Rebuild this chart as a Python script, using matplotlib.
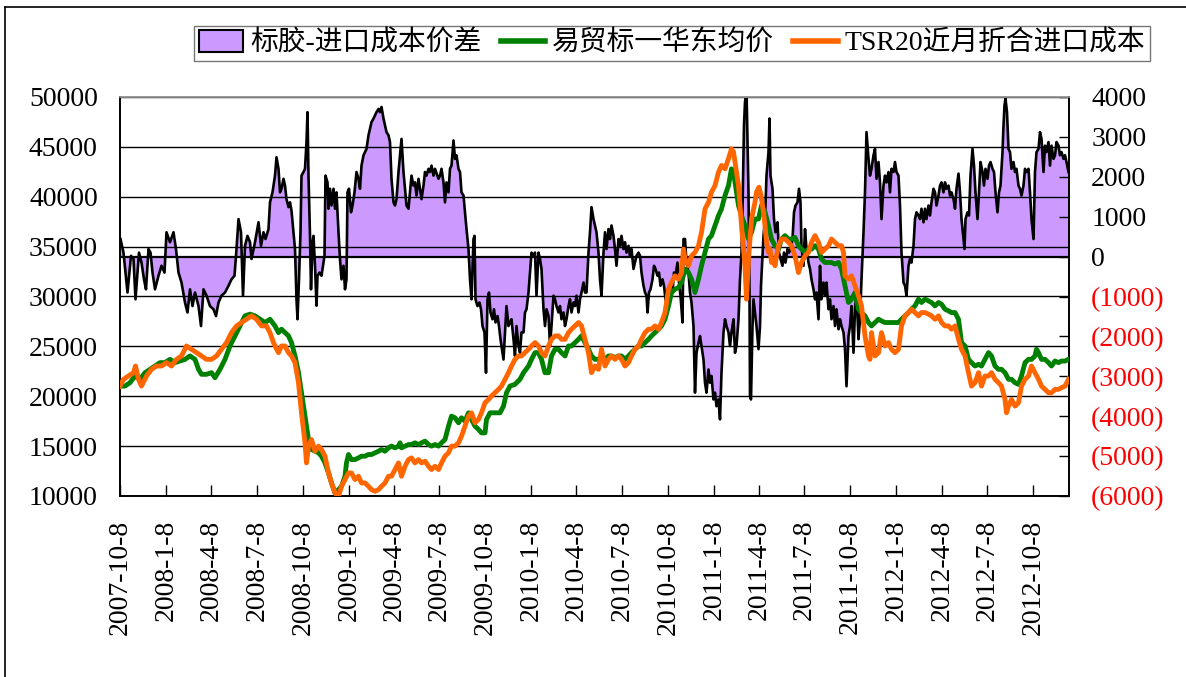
import numpy as np
import pandas as pd
import matplotlib
matplotlib.use("Agg")
import matplotlib.pyplot as plt
from matplotlib.patches import Patch
from matplotlib.lines import Line2D

plt.rcParams['font.family'] = ['Liberation Serif', 'Noto Sans CJK SC']
plt.rcParams['axes.unicode_minus'] = False

# ---------- data (day offset from 2007-10-08, value) ----------
start = pd.Timestamp("2007-10-08")
end_day = 1898

# 标胶-进口成本价差 (right axis)
spread_pts = [
    (1, 440), (7, 100), (15, -900), (22, 20), (27, -60), (31, -1070), (38, 100), (43, -150),
    (48, -570), (52, -820), (57, 190), (61, 100), (65, -400), (70, -820), (77, -480), (83, -230),
    (89, -400), (93, 610), (100, 360), (107, 610), (112, 190), (117, -400), (123, -650), (130, -1150),
    (135, -1400), (140, -820), (145, -1240), (150, -900), (157, -1240), (162, -1740), (167, -820),
    (173, -980), (180, -1240), (187, -1320), (192, -1490), (197, -1150), (203, -980), (210, -900),
    (217, -730), (223, -570), (229, -480), (233, 190), (237, 940), (242, 610), (246, -980), (250, 270),
    (255, 520), (260, 360), (263, -60), (270, 360), (277, 860), (282, 270), (287, 610), (291, 440),
    (297, 690), (300, 1360), (305, 1610), (310, 2030), (313, 2490), (317, 2200), (320, 1610),
    (323, 1700), (327, 1950), (330, 1780), (333, 1440), (337, 1240), (340, 1360), (343, 1150),
    (347, 600), (350, 190), (353, -1070), (355, -1570), (358, -570), (361, 610), (363, 2030),
    (367, 2120), (370, 2200), (373, 2870), (375, 3620), (377, 2030), (380, 520), (382, -820),
    (385, 360), (387, 520), (390, -230), (393, -1230), (395, -480), (399, -400), (403, -480),
    (409, 20), (411, 2030), (415, 1860), (417, 1200), (420, 1700), (423, 1280), (427, 1700),
    (430, 1200), (433, 1610), (437, 610), (440, -60), (443, -570), (447, -230), (450, -820),
    (453, -570), (455, 1610), (458, 1700), (462, 1110), (465, 1280), (469, 1610), (473, 2120),
    (477, 1950), (480, 1700), (483, 2280), (487, 2540), (490, 2620), (493, 2700), (497, 3040),
    (500, 3200), (503, 3370), (507, 3460), (510, 3540), (513, 3620), (517, 3700), (520, 3620),
    (523, 3750), (527, 3460), (530, 3290), (533, 3120), (537, 3040), (540, 2870), (543, 1950),
    (547, 1360), (550, 1280), (553, 1440), (557, 2120), (560, 2540), (563, 2950), (567, 2120),
    (570, 1700), (573, 1280), (577, 1200), (580, 1610), (583, 2030), (587, 1780), (590, 1860),
    (593, 1530), (597, 1950), (600, 1700), (603, 1440), (607, 1780), (610, 2120), (613, 2030),
    (617, 2200), (620, 2120), (623, 2280), (627, 2030), (630, 2200), (637, 1950), (640, 2030),
    (643, 2200), (647, 1860), (650, 1360), (653, 1860), (657, 1610), (660, 2200), (663, 2280),
    (667, 2910), (670, 2450), (673, 2540), (677, 2200), (680, 2120), (683, 1610), (687, 1530),
    (690, 1110), (693, 690), (697, 190), (700, -570), (703, -1070), (707, 440), (709, 520),
    (711, -1070), (715, -1240), (719, -1150), (722, -1320), (725, -1740), (729, -1900), (732, -2910),
    (735, -1070), (738, -900), (741, -1400), (745, -1570), (748, -1320), (751, -1650), (755, -1490),
    (758, -1740), (761, -2070), (767, -2580), (770, -1900), (773, -1240), (777, -1740), (780, -1650),
    (783, -1570), (787, -2070), (790, -2490), (793, -1740), (797, -2240), (800, -2410), (803, -1900),
    (807, -1900), (810, -1400), (813, -1320), (817, -900), (820, -400), (823, 100), (827, 20),
    (830, 100), (833, -980), (837, 100), (840, -60), (843, -310), (847, -1320), (850, -1740),
    (853, -1320), (857, -1490), (860, -2240), (863, -1740), (867, -980), (870, -1070), (873, -1240),
    (877, -1400), (880, -1240), (883, -1570), (887, -1400), (890, -1740), (893, -1570), (897, -1240),
    (900, -1070), (903, -1400), (907, -1150), (910, -1240), (913, -980), (917, -1400), (920, -1070),
    (923, -900), (927, -650), (930, -900), (933, -900), (937, 100), (940, 610), (943, 1240),
    (947, 940), (950, 780), (953, 610), (957, 100), (960, -570), (963, -980), (967, 100), (970, 610),
    (973, 190), (977, 690), (980, 440), (983, 780), (987, 520), (990, 190), (993, -230), (997, 440),
    (1000, 270), (1003, 520), (1007, 190), (1010, 360), (1013, 100), (1017, 270), (1020, 20),
    (1023, 190), (1027, -310), (1030, -150), (1033, 20), (1037, 100), (1040, 20), (1043, -400),
    (1047, -730), (1050, -900), (1053, -980), (1055, -1400), (1058, -900), (1061, -820), (1065, -570),
    (1068, -230), (1071, -310), (1075, -480), (1078, -400), (1081, -730), (1085, -570), (1088, -730),
    (1091, -1070), (1095, -1240), (1098, -980), (1101, -900), (1105, -900), (1108, -400), (1111, -480),
    (1115, -150), (1118, -650), (1121, -980), (1125, -1650), (1127, 440), (1130, 440), (1133, -150),
    (1137, -400), (1140, -900), (1143, -1150), (1147, -1740), (1150, -3410), (1153, -2410),
    (1157, -2160), (1160, -1990), (1163, -2240), (1167, -2580), (1170, -3160), (1173, -3410),
    (1177, -2830), (1180, -3160), (1183, -2990), (1187, -3580), (1190, -3410), (1193, -3750),
    (1197, -3580), (1200, -4080), (1203, -2910), (1207, -1900), (1210, -1570), (1213, -1740),
    (1217, -1900), (1220, -2240), (1223, -1900), (1227, -1570), (1230, -2410), (1233, -2240),
    (1237, -1570), (1240, -570), (1243, 100), (1245, 1200), (1248, 3290), (1250, 3870), (1253, 4200),
    (1255, 2870), (1257, 1610), (1259, -900), (1260, -3500), (1262, -3580), (1265, -1740),
    (1267, -1070), (1270, -1400), (1273, -1740), (1277, -2320), (1280, -1740), (1282, -730),
    (1287, 520), (1290, 940), (1293, 2030), (1297, 2620), (1299, 3460), (1301, 2030), (1305, 1700),
    (1308, 940), (1311, 610), (1315, 860), (1318, 100), (1321, -60), (1325, -230), (1328, 100),
    (1331, -150), (1335, 190), (1338, 100), (1341, 190), (1345, 440), (1348, 1110), (1351, 1280),
    (1355, 1360), (1358, 1700), (1361, 1360), (1363, 270), (1367, -230), (1370, 690), (1373, 190),
    (1377, -150), (1380, -310), (1383, -570), (1387, -820), (1390, -1070), (1393, -900),
    (1397, -1570), (1400, -230), (1403, -1070), (1407, -650), (1410, -980), (1413, -650),
    (1417, -1320), (1420, -1070), (1423, -1570), (1427, -1240), (1430, -1740), (1433, -1320),
    (1437, -1820), (1440, -1570), (1443, -1740), (1447, -1900), (1450, -2320), (1453, -3250),
    (1457, -1990), (1460, -1740), (1463, -1240), (1467, -2410), (1470, -1320), (1473, -900),
    (1477, -2070), (1480, -1570), (1483, -570), (1487, 610), (1490, 1610), (1493, 3120),
    (1497, 2450), (1500, 2030), (1503, 2200), (1507, 2540), (1510, 2700), (1513, 1950), (1517, 2370),
    (1520, 1860), (1523, 940), (1527, 1780), (1530, 2030), (1533, 1860), (1537, 2120), (1540, 1610),
    (1543, 2200), (1547, 2120), (1550, 2370), (1553, 2120), (1557, 2030), (1560, 1280), (1563, 100),
    (1567, -650), (1570, -730), (1573, -980), (1577, -230), (1580, -60), (1583, -150), (1587, 270),
    (1590, 940), (1593, 1110), (1597, 1030), (1600, 940), (1603, 1200), (1607, 860), (1610, 1200),
    (1613, 940), (1617, 1280), (1620, 1030), (1623, 1360), (1627, 1700), (1630, 1610), (1633, 1280),
    (1637, 1530), (1640, 1780), (1643, 1860), (1647, 1610), (1650, 1860), (1653, 1700), (1657, 1780),
    (1660, 1530), (1663, 1610), (1667, 1440), (1670, 1200), (1673, 1700), (1677, 2080), (1680, 1610),
    (1683, 940), (1687, 440), (1689, 190), (1691, 940), (1695, 1110), (1698, 1030), (1701, 2030),
    (1705, 2700), (1708, 2280), (1711, 1610), (1715, 940), (1718, 1610), (1721, 2370), (1725, 2120),
    (1728, 1780), (1731, 2200), (1735, 1950), (1738, 2280), (1741, 2370), (1745, 2200), (1748, 2120),
    (1751, 1610), (1755, 1110), (1758, 1610), (1761, 1780), (1765, 2620), (1767, 3290), (1769, 3790),
    (1771, 3960), (1774, 3620), (1777, 2700), (1780, 2620), (1783, 2200), (1787, 2370), (1790, 2120),
    (1793, 2200), (1797, 1780), (1800, 1700), (1803, 1530), (1807, 1780), (1810, 2200), (1813, 2120),
    (1817, 2200), (1820, 1610), (1823, 940), (1827, 440), (1830, 2120), (1833, 2620), (1837, 2700),
    (1840, 3120), (1843, 2950), (1847, 2120), (1850, 2780), (1853, 2620), (1857, 2870), (1860, 2280),
    (1863, 2780), (1867, 2450), (1870, 2540), (1873, 2870), (1877, 2780), (1880, 2540), (1883, 2620),
    (1887, 2450), (1890, 2540), (1893, 2370), (1897, 2120),
]

# 易贸标一华东均价 (left axis)
green_pts = [
    (0, 21020), (10, 21020), (20, 21360), (30, 22030), (40, 21700), (50, 22360), (60, 22700),
    (70, 23030), (80, 23370), (90, 23370), (100, 23700), (110, 23370), (120, 23530), (130, 23700),
    (140, 24040), (150, 23700), (157, 22700), (163, 22200), (173, 22200), (183, 22360), (190, 21860),
    (200, 22700), (210, 23700), (220, 25040), (230, 26050), (240, 27050), (250, 28060), (260, 28230),
    (270, 28060), (280, 27720), (290, 27390), (300, 27720), (310, 27050), (317, 26380), (323, 26720),
    (330, 26380), (337, 26050), (343, 25380), (350, 24040), (357, 22360), (363, 20350), (370, 18010),
    (377, 15660), (383, 14660), (390, 14490), (397, 14330), (403, 13990), (410, 13320), (417, 12310),
    (423, 11310), (430, 10300), (437, 10640), (443, 10970), (450, 11980), (453, 13320), (457, 14160),
    (463, 13650), (470, 13650), (477, 13820), (483, 13990), (490, 13990), (497, 14160), (503, 14160),
    (510, 14330), (517, 14490), (523, 14660), (530, 14490), (537, 14830), (543, 15000), (550, 14830),
    (557, 15000), (560, 15330), (563, 14830), (570, 15000), (577, 15160), (583, 15160), (590, 15330),
    (597, 15160), (603, 15330), (610, 15500), (617, 15160), (623, 15000), (630, 15160), (637, 15000),
    (643, 15330), (650, 15660), (657, 17000), (663, 18010), (670, 17840), (677, 17340), (683, 17840),
    (690, 17510), (697, 18340), (703, 17670), (710, 17000), (717, 16670), (723, 16330), (730, 16330),
    (733, 17670), (740, 18340), (750, 18340), (760, 18340), (767, 19010), (773, 20350), (780, 21020),
    (790, 21190), (800, 21700), (807, 22360), (817, 23030), (823, 23700), (830, 24370), (837, 24370),
    (843, 23700), (850, 22360), (857, 22360), (863, 24040), (870, 24710), (877, 24710), (883, 24370),
    (890, 24040), (897, 25040), (903, 25040), (910, 25380), (917, 25710), (923, 26050), (930, 25380),
    (937, 24710), (943, 24040), (950, 23700), (957, 23700), (963, 24040), (970, 23700), (977, 24040),
    (983, 24040), (990, 23870), (997, 24040), (1003, 24040), (1010, 23700), (1017, 24040),
    (1023, 24370), (1030, 24710), (1037, 25040), (1043, 25040), (1050, 25380), (1057, 25710),
    (1063, 26050), (1070, 26380), (1077, 26720), (1083, 27050), (1090, 27720), (1097, 29060),
    (1103, 30400), (1110, 30730), (1117, 30900), (1123, 31400), (1130, 32740), (1137, 32400),
    (1143, 31740), (1150, 30400), (1157, 31740), (1163, 33080), (1170, 34420), (1177, 35760),
    (1183, 36100), (1190, 37100), (1197, 38110), (1203, 38780), (1210, 40120), (1217, 41120),
    (1223, 42800), (1227, 42470), (1230, 41460), (1237, 39120), (1243, 38110), (1250, 37100),
    (1257, 35760), (1263, 36430), (1270, 37770), (1277, 37770), (1283, 39120), (1290, 38450),
    (1297, 37100), (1303, 35760), (1310, 35090), (1317, 34750), (1323, 35760), (1330, 36100),
    (1337, 35760), (1343, 35760), (1350, 35930), (1357, 35090), (1363, 34750), (1370, 34420),
    (1377, 34750), (1383, 34750), (1390, 35090), (1397, 34750), (1403, 33750), (1410, 33410),
    (1417, 33410), (1423, 33410), (1430, 33250), (1437, 33410), (1443, 32740), (1450, 31070),
    (1457, 29400), (1463, 29730), (1470, 30400), (1477, 28730), (1483, 28390), (1490, 28060),
    (1497, 27390), (1503, 27050), (1510, 27390), (1517, 27720), (1523, 27550), (1530, 27390),
    (1537, 27390), (1543, 27390), (1550, 27390), (1557, 27390), (1563, 27720), (1570, 28060),
    (1577, 28390), (1583, 28730), (1590, 29060), (1597, 29730), (1603, 29400), (1610, 29730),
    (1617, 29560), (1623, 29400), (1630, 29060), (1637, 29400), (1643, 29230), (1650, 28730),
    (1657, 28560), (1663, 28390), (1670, 28390), (1677, 27720), (1683, 25380), (1690, 25040),
    (1697, 23700), (1703, 23370), (1710, 23030), (1717, 23200), (1723, 23030), (1730, 23700),
    (1737, 24370), (1743, 24040), (1750, 23030), (1757, 22700), (1763, 22700), (1770, 22360),
    (1777, 21700), (1783, 21700), (1790, 21360), (1797, 21190), (1803, 22030), (1810, 23370),
    (1817, 23700), (1823, 23700), (1830, 24040), (1833, 24710), (1837, 24370), (1843, 23700),
    (1850, 23700), (1857, 23370), (1863, 23030), (1870, 23530), (1877, 23370), (1883, 23530),
    (1890, 23530), (1897, 23700),
]

# TSR20近月折合进口成本 (left axis)
orange_pts = [
    (0, 21020), (7, 21700), (17, 22030), (27, 22360), (31, 23030), (37, 21700), (43, 21020),
    (53, 22030), (63, 22700), (73, 23030), (83, 23030), (93, 23370), (103, 23030), (113, 23700),
    (123, 24040), (133, 25040), (143, 24710), (153, 24370), (163, 24040), (173, 23700), (183, 23700),
    (193, 24040), (203, 24710), (213, 25380), (223, 26380), (233, 27050), (243, 27390), (253, 27720),
    (263, 28060), (273, 27720), (283, 27050), (293, 27050), (300, 26380), (307, 25380), (310, 25040),
    (317, 24370), (323, 25040), (330, 25040), (337, 24370), (343, 24040), (350, 23370), (357, 21360),
    (363, 18340), (370, 15330), (373, 13320), (377, 15000), (383, 15660), (390, 14490), (397, 15000),
    (403, 14660), (410, 13990), (417, 12310), (423, 11310), (430, 10300), (437, 9970), (443, 10970),
    (450, 11650), (457, 12310), (463, 12310), (470, 11650), (477, 11980), (483, 11310), (490, 11310),
    (497, 10970), (503, 10640), (510, 10470), (517, 10640), (523, 10970), (530, 11310), (537, 11980),
    (543, 11980), (550, 12650), (557, 13320), (563, 11980), (570, 12980), (577, 13650), (583, 13820),
    (590, 13320), (597, 13650), (603, 13320), (610, 13490), (617, 12980), (623, 12650), (630, 12980),
    (637, 12650), (643, 13320), (650, 13990), (657, 14330), (663, 15000), (670, 15000), (677, 15330),
    (683, 16000), (690, 17000), (697, 18010), (703, 18340), (710, 17340), (717, 17670), (723, 18340),
    (730, 19350), (737, 19680), (743, 20020), (750, 20350), (757, 20690), (763, 21020), (770, 21700),
    (777, 22360), (783, 23030), (790, 23700), (797, 24040), (803, 24040), (810, 24370), (817, 24710),
    (823, 25040), (830, 25380), (837, 25040), (843, 24370), (850, 24040), (857, 25040), (863, 25710),
    (870, 26050), (877, 26050), (883, 25710), (890, 25710), (897, 26380), (903, 26720), (910, 27050),
    (917, 27390), (923, 27050), (930, 25710), (937, 24370), (943, 22360), (950, 23030), (957, 22700),
    (963, 24710), (970, 23030), (977, 23700), (983, 24040), (990, 23700), (997, 24040), (1003, 23700),
    (1010, 23030), (1017, 23370), (1023, 24040), (1030, 24710), (1037, 25040), (1043, 25710),
    (1050, 26380), (1057, 26720), (1063, 26720), (1070, 27050), (1077, 26720), (1083, 27390),
    (1090, 28390), (1097, 30730), (1103, 31400), (1110, 32070), (1117, 31740), (1123, 32400),
    (1127, 34750), (1130, 33750), (1137, 33080), (1143, 34080), (1150, 34420), (1157, 35090),
    (1163, 36430), (1170, 38780), (1177, 39450), (1183, 40460), (1190, 41120), (1197, 42470),
    (1203, 43140), (1210, 42800), (1217, 43810), (1223, 44810), (1227, 44480), (1230, 43480),
    (1237, 41120), (1243, 37100), (1250, 33080), (1253, 29730), (1257, 33750), (1263, 37770),
    (1270, 39450), (1273, 40460), (1278, 40960), (1282, 40120), (1287, 38450), (1290, 37100),
    (1293, 35430), (1297, 34420), (1300, 34750), (1303, 33410), (1307, 33750), (1310, 33080),
    (1313, 34080), (1317, 35090), (1323, 35760), (1330, 35760), (1337, 35430), (1343, 35090),
    (1350, 34080), (1357, 32400), (1363, 33410), (1370, 34080), (1377, 34420), (1383, 35430),
    (1390, 36100), (1397, 35430), (1403, 34420), (1410, 34750), (1417, 35090), (1423, 35760),
    (1430, 35430), (1437, 35090), (1443, 35090), (1447, 34420), (1450, 32070), (1457, 31740),
    (1463, 32070), (1470, 31070), (1477, 30070), (1483, 29060), (1490, 26050), (1497, 24040),
    (1500, 23700), (1503, 26380), (1510, 24040), (1517, 24370), (1523, 26380), (1530, 25040),
    (1537, 25380), (1543, 24710), (1550, 24370), (1557, 24710), (1563, 27050), (1570, 28060),
    (1577, 28390), (1583, 28730), (1590, 28390), (1597, 28060), (1603, 28390), (1610, 28390),
    (1617, 28230), (1623, 28060), (1630, 27720), (1637, 28060), (1643, 27390), (1650, 27050),
    (1657, 27050), (1663, 26720), (1670, 27050), (1677, 25710), (1683, 24710), (1690, 24040),
    (1697, 22360), (1703, 21020), (1710, 21360), (1717, 22360), (1723, 21020), (1730, 22030),
    (1737, 22030), (1743, 22360), (1750, 21700), (1757, 21360), (1763, 21020), (1770, 19680),
    (1773, 18340), (1777, 19010), (1783, 19680), (1790, 19010), (1797, 19350), (1803, 21020),
    (1810, 21700), (1817, 22030), (1823, 23030), (1830, 22360), (1837, 21700), (1843, 21020),
    (1850, 20690), (1857, 20350), (1863, 20350), (1870, 20690), (1877, 20690), (1883, 20860),
    (1890, 21020), (1897, 21700),
]

series_names = ["标胶-进口成本价差", "易贸标一华东均价", "TSR20近月折合进口成本"]
left_ticks = [10000, 15000, 20000, 25000, 30000, 35000, 40000, 45000, 50000]
right_ticks = [-6000, -5000, -4000, -3000, -2000, -1000, 0, 1000, 2000, 3000, 4000]
x_ticks = pd.date_range(start, periods=21, freq=pd.DateOffset(months=3))


def to_xy(pts):
    d, v = zip(*pts)
    return start + pd.to_timedelta(list(d), unit="D"), np.array(v, dtype=float)


# ---------- figure ----------
W, H = 1186, 677
fig = plt.figure(figsize=(W / 100, H / 100), dpi=100)
ax = fig.add_axes([120 / W, 1 - 496 / H, (1069 - 120) / W, (496 - 97) / H])
ax2 = ax.twinx()
ax.set_zorder(ax2.get_zorder() + 1)
ax.patch.set_visible(False)

# spread area on the right axis
sx, sy = to_xy(spread_pts)
ax2.fill_between(sx, 0, sy, facecolor="#CC99FF", edgecolor="none", lw=0)
ax2.plot(sx, sy, color="black", lw=1.9)
ax2.axhline(0, color="black", lw=1.6)
ax2.set_ylim(-6000, 4000)
ax2.set_yticks(right_ticks)
ax2.set_yticklabels([f"({abs(v)})" if v < 0 else f"{v}" for v in right_ticks])
for lab, v in zip(ax2.get_yticklabels(), right_ticks):
    lab.set_color("red" if v < 0 else "black")
ax2.tick_params(axis="y", direction="in", length=7, width=1, pad=16, labelsize=20)

# price lines on the left axis
gx, gy = to_xy(green_pts)
ox, oy = to_xy(orange_pts)
ax.plot(gx, gy, color="#008000", lw=3.5, zorder=3, solid_joinstyle="round")
ax.plot(ox, oy, color="#FF6600", lw=3.5, zorder=4, solid_joinstyle="round")
ax.set_ylim(10000, 50000)
ax.set_yticks(left_ticks)
ax.yaxis.grid(True, color="black", lw=1)
ax.set_axisbelow(True)
ax.tick_params(axis="y", direction="in", length=0, pad=16, labelsize=20)

ax.set_xlim(start, start + pd.Timedelta(days=end_day))
ax.set_xticks(x_ticks)
ax.set_xticklabels([f"{d.year}-{d.month}-{d.day}" for d in x_ticks], rotation=90)
ax.tick_params(axis="x", direction="in", length=8, width=1, pad=17, labelsize=20)

for a in (ax, ax2):
    for s in a.spines.values():
        s.set_linewidth(1.2)
        s.set_color("black")
    a.spines["top"].set_color("#999999")

# legend
handles = [
    Patch(facecolor="#CC99FF", edgecolor="black", lw=1.5),
    Line2D([0], [0], color="#008000", lw=4),
    Line2D([0], [0], color="#FF6600", lw=4),
]
leg = fig.legend(handles, series_names, loc="center",
                 bbox_to_anchor=(672 / W, 1 - 43.5 / H), bbox_transform=fig.transFigure,
                 ncol=3, frameon=True, fancybox=False, edgecolor="#555555", fontsize=20,
                 handlelength=1.6, handleheight=0.8, columnspacing=0.7, handletextpad=0.25,
                 borderpad=0.15, borderaxespad=0)
leg.get_frame().set_linewidth(1.0)

# outer frame
fig.add_artist(Line2D([5 / W, 5 / W], [0, 1 - 7 / H], transform=fig.transFigure, color="black", lw=1.2))
fig.add_artist(Line2D([5 / W, 1], [1 - 7 / H, 1 - 7 / H], transform=fig.transFigure, color="black", lw=1.2))

fig.savefig("out.png", dpi=100)
